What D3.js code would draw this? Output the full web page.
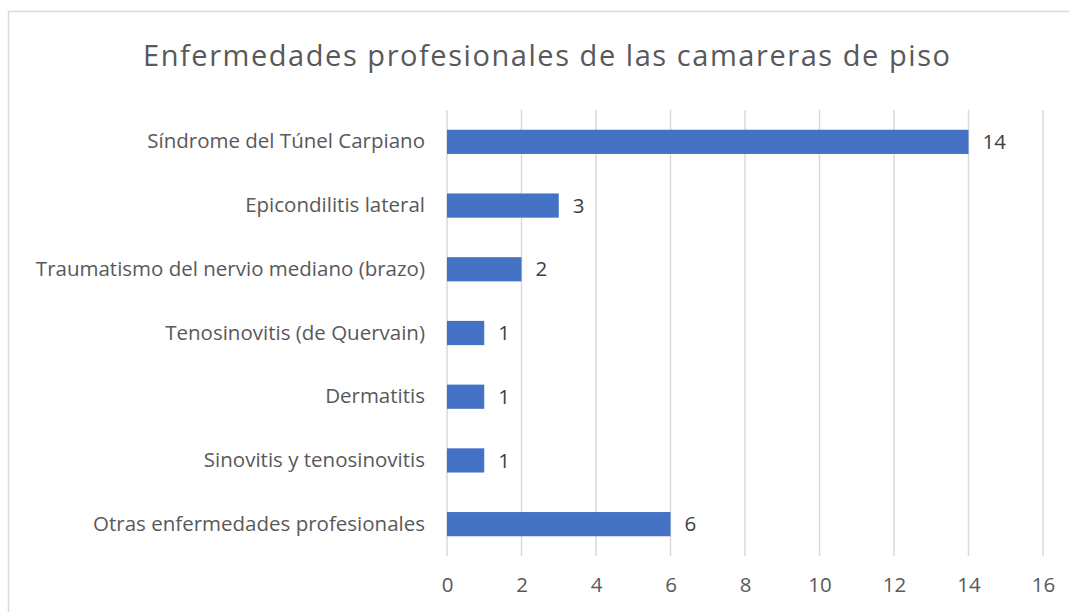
<!DOCTYPE html>
<html>
<head>
<meta charset="utf-8">
<script src="https://cdn.jsdelivr.net/npm/d3@7"></script>
<style>
  body { margin: 0; background: #fff; }
  text { font-family: "Open Sans", "Noto Sans", sans-serif; }
</style>
</head>
<body>
<div id="canvas"></div>
<script>
// DATA
const categories = [
  "Síndrome del Túnel Carpiano",
  "Epicondilitis lateral",
  "Traumatismo del nervio mediano (brazo)",
  "Tenosinovitis (de Quervain)",
  "Dermatitis",
  "Sinovitis y tenosinovitis",
  "Otras enfermedades profesionales"
];
const values = [14, 3, 2, 1, 1, 1, 6];
const xTicks = [0, 2, 4, 6, 8, 10, 12, 14, 16];
const title = "Enfermedades profesionales de las camareras de piso";

// DIMENSIONS
const width = 1069;
const height = 612;
const margin = { top: 110, right: 26, bottom: 56, left: 447 };
const plot_width = width - margin.left - margin.right;
const plot_height = height - margin.top - margin.bottom;

// CANVAS
const canvas = d3.select("#canvas")
  .append("svg")
  .attr("width", width)
  .attr("height", height);

// chart border
canvas.append("rect")
  .attr("x", 8.5)
  .attr("y", 11.5)
  .attr("width", width + 20)
  .attr("height", height + 20)
  .attr("fill", "none")
  .attr("stroke", "#d9d9d9")
  .attr("stroke-width", 1.5);

// TITLE
canvas.append("text")
  .attr("x", 143)
  .attr("y", 66)
  .attr("fill", "#595959")
  .attr("textLength", 807)
  .attr("lengthAdjust", "spacing")
  .style("font-size", "29px")
  .text(title);

const plot = canvas.append("g")
  .attr("transform", `translate(${margin.left}, ${margin.top})`);

// SCALES
const xScale = d3.scaleLinear()
  .domain([0, 16])
  .range([0, plot_width]);

const yScale = d3.scaleBand()
  .domain(categories)
  .range([0, plot_height])
  .paddingInner(0.62)
  .paddingOuter(0.31);

// GRID
plot.append("g")
  .selectAll("line")
  .data(xTicks)
  .join("line")
  .attr("x1", d => xScale(d))
  .attr("x2", d => xScale(d))
  .attr("y1", 0)
  .attr("y2", plot_height)
  .attr("stroke", "#d9d9d9")
  .attr("stroke-width", 1.5);

// X AXIS
const xAx = d3.axisBottom(xScale).tickValues(xTicks).tickSize(0).tickPadding(21);
const xAxisHolder = plot.append("g")
  .attr("transform", `translate(0, ${plot_height})`)
  .call(xAx);
xAxisHolder.select(".domain").remove();
xAxisHolder.selectAll("text")
  .attr("fill", "#595959")
  .style("font-size", "20.5px")
  .style("font-family", "\"Open Sans\", sans-serif");

// Y AXIS
const yAx = d3.axisLeft(yScale).tickSize(0).tickPadding(22);
const yAxisHolder = plot.append("g").call(yAx);
yAxisHolder.select(".domain").remove();
yAxisHolder.selectAll("text")
  .attr("fill", "#595959")
  .style("font-size", "20.5px")
  .style("font-family", "\"Open Sans\", sans-serif");

// BARS
const rows = categories.map((c, i) => ({ category: c, value: values[i] }));
plot.append("g")
  .selectAll("rect")
  .data(rows)
  .join("rect")
  .attr("x", xScale(0))
  .attr("y", d => yScale(d.category))
  .attr("width", d => xScale(d.value) - xScale(0))
  .attr("height", yScale.bandwidth())
  .attr("fill", "#4472c4");

// LABELS
plot.append("g")
  .selectAll("text")
  .data(rows)
  .join("text")
  .attr("x", d => xScale(d.value) + 14)
  .attr("y", d => yScale(d.category) + yScale.bandwidth() / 2)
  .attr("dy", "0.35em")
  .attr("fill", "#404040")
  .style("font-size", "20.5px")
  .text(d => d.value);
</script>
</body>
</html>
